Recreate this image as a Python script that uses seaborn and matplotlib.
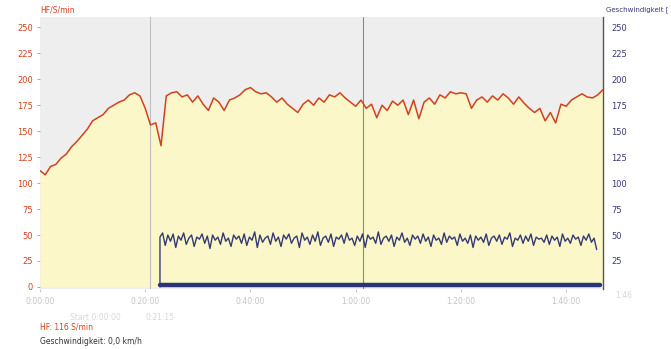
import numpy as np
import pandas as pd
import matplotlib
matplotlib.use("Agg")
import matplotlib.pyplot as plt
import seaborn as sns

# ---- data ----
hr_bpm = [112, 108, 116, 118, 124, 128, 135, 140, 146, 152,
          160, 163, 166, 172, 175, 178, 180, 185, 187, 184,
          172, 156, 158, 136, 184, 187, 188, 183, 185, 178,
          184, 176, 170, 182, 178, 170, 180, 182, 185, 190,
          192, 188, 186, 187, 183, 178, 182, 176, 172, 168,
          176, 180, 175, 182, 178, 185, 183, 187, 182, 178,
          174, 180, 172, 176, 163, 175, 170, 179, 175, 180,
          166, 180, 162, 178, 182, 176, 185, 182, 188, 186,
          187, 186, 172, 180, 183, 178, 184, 180, 186, 182,
          176, 183, 177, 172, 168, 172, 160, 168, 158, 176,
          174, 180, 183, 186, 183, 182, 185, 190]

speed_start_min = 22.8
speed_kmh = [0, 48, 52, 40, 50, 44, 51, 38, 49, 45, 52, 41, 47, 50, 39, 48, 46, 51, 42, 49,
             37, 50, 45, 48, 41, 52, 44, 47, 39, 50, 46, 49, 42, 51, 40, 48, 45, 53, 38, 50,
             43, 47, 49, 41, 52, 44, 48, 39, 50, 46, 51, 42, 47, 49, 38, 52, 45, 48, 41, 50,
             44, 53, 40, 47, 49, 43, 51, 39, 48, 46, 50, 42, 52, 45, 47, 40, 49, 44, 51, 38,
             50, 46, 48, 42, 53, 41, 47, 49, 44, 50, 39, 48, 45, 52, 43, 47, 40, 50, 46, 49,
             42, 51, 44, 48, 39, 50, 45, 47, 41, 52, 43, 49, 46, 48, 40, 51, 44, 47, 42, 50,
             38, 49, 45, 48, 43, 51, 40, 47, 49, 44, 50, 41, 48, 46, 52, 39, 47, 45, 50, 42,
             49, 44, 51, 40, 48, 46, 47, 43, 50, 41, 49, 45, 48, 39, 51, 44, 47, 42, 50, 46,
             48, 40, 49, 45, 51, 43, 47, 36]

base_time = [22.8, 106.5]
base_value = [2, 2]

x_ticks = [0, 20, 40, 60, 80, 100]
x_tick_labels = ["0:00:00", "0:20:00", "0:40:00", "1:00:00", "1:20:00", "1:40:00"]
y_ticks = [0, 25, 50, 75, 100, 125, 150, 175, 200, 225, 250]
y2_ticks = [25, 50, 75, 100, 125, 150, 175, 200, 225, 250]

# ---- frames ----
hr_df = pd.DataFrame({"min": np.arange(len(hr_bpm)), "hr": hr_bpm})
sp_t = speed_start_min + 0.5 * np.maximum(np.arange(len(speed_kmh)) - 1, 0)
sp_df = pd.DataFrame({"min": sp_t, "v": speed_kmh})
base_df = pd.DataFrame({"min": base_time, "v": base_value})

sns.set_theme(style="white")
plt.rcParams["font.family"] = ["DejaVu Sans"]

RED = "#d2421c"
NAVY = "#353a74"

fig = plt.figure(figsize=(6.71, 3.49), dpi=100)
ax = fig.add_axes([40 / 671, 1 - 289 / 349, (603 - 40) / 671, (289 - 17) / 349])
ax.set_facecolor("#eeeeee")

ax.fill_between(hr_df["min"], 0, hr_df["hr"], color="#fbf7c8", zorder=1, linewidth=0)
ax.axvline(21, color="#c0c0c0", lw=0.8, zorder=1.5)
ax.axvline(61.4, color="#8a8a8a", lw=0.8, zorder=1.5)

sns.lineplot(data=hr_df, x="min", y="hr", ax=ax, color=RED, lw=1.1, zorder=3)
sns.lineplot(data=sp_df, x="min", y="v", ax=ax, color=NAVY, lw=1.0, zorder=3,
             estimator=None, sort=False)
sns.lineplot(data=base_df, x="min", y="v", ax=ax, color="#2b3478", lw=3.2, zorder=3)

ax.set_xlim(0, 107)
ax.set_ylim(-2, 260)
ax.set_xlabel("")
ax.set_ylabel("")
ax.set_yticks(y_ticks)
ax.set_yticklabels([str(v) for v in y_ticks], color=RED, fontsize=6)
ax.tick_params(axis="y", length=2, width=0.6, color="#999999", pad=3, left=True)
ax.set_xticks(x_ticks)
ax.set_xticklabels(x_tick_labels, color="#c4c4c4", fontsize=5.5)
ax.tick_params(axis="x", length=2, width=0.6, color="#bbbbbb", pad=4, bottom=True)
for s in ["top", "left", "bottom"]:
    ax.spines[s].set_visible(False)
ax.spines["right"].set_color("#555555")
ax.spines["right"].set_linewidth(1.0)

ax2 = ax.twinx()
ax2.set_ylim(-2, 260)
ax2.set_yticks(y2_ticks)
ax2.set_yticklabels([str(v) for v in y2_ticks], color=NAVY, fontsize=6)
ax2.tick_params(axis="y", length=0, pad=6)
for s in ["top", "left", "bottom", "right"]:
    ax2.spines[s].set_visible(False)

fig.text(40 / 671, 1 - 10 / 349, "HF/S/min", color=RED, fontsize=5.5, va="center", ha="left")
fig.text(669 / 671, 1 - 10 / 349, "Geschwindigkeit [", color=NAVY, fontsize=5,
         va="center", ha="right")
fig.text(40 / 671, 1 - 327 / 349, "HF: 116 S/min", color=RED, fontsize=5.5, va="center")
fig.text(40 / 671, 1 - 341 / 349, "Geschwindigkeit: 0,0 km/h", color="#333333",
         fontsize=5.5, va="center")
fig.text(70 / 671, 1 - 318 / 349, "Start 0:00:00", color="#d8d8d8", fontsize=5.5, va="center")
fig.text(145 / 671, 1 - 318 / 349, "0:21:15", color="#d8d8d8", fontsize=5.5, va="center")
fig.text(615 / 671, 1 - 296 / 349, "1:46", color="#d8d8d8", fontsize=5.5, va="center")

fig.savefig("out.png", dpi=100, facecolor="white")
